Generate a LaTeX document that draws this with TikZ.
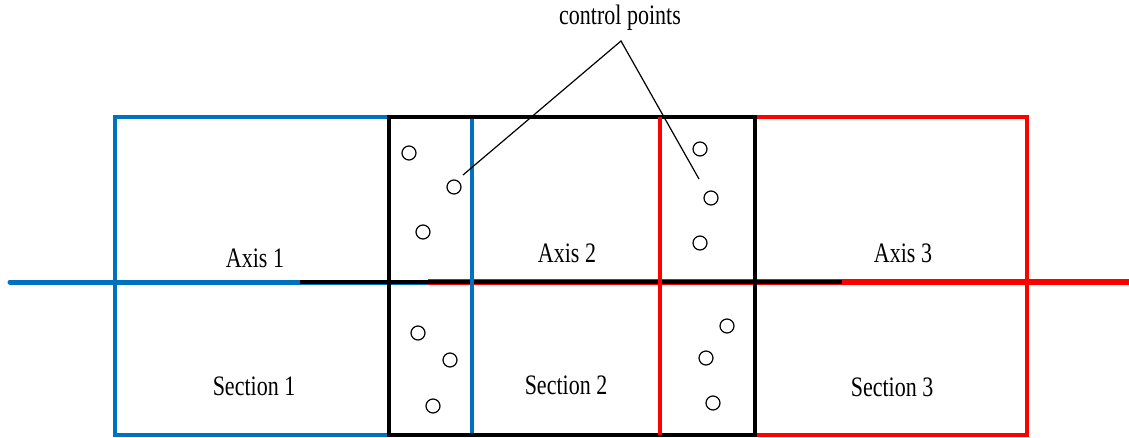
\documentclass[tikz,border=0pt]{standalone}
\usepackage{fontspec}
\usepackage{graphicx}
\setmainfont{Liberation Serif}
\definecolor{axblue}{RGB}{0,112,192}
\definecolor{axred}{RGB}{255,0,0}
\newcommand{\tallt}[1]{\scalebox{1}[1.28]{#1}}
\begin{document}
\begin{tikzpicture}[x=1pt,y=-1pt,
  boxline/.style={line width=3.6pt},
  axisline/.style={line width=5pt},
  cpt/.style={circle,draw,line width=1.2pt,minimum size=14pt,inner sep=0pt},
  lbl/.style={font=\fontsize{22}{26}\selectfont,inner sep=0pt},
  leader/.style={line width=1.2pt}]
\useasboundingbox (0,0) rectangle (1129,438);
% axis line
\draw[axisline,axblue,line cap=round] (10,282) -- (428,282);
\draw[axisline,axred,line width=6pt] (428,282) -- (1129,282);
\draw[axisline,black,line width=4.2pt] (300,282) -- (842,282);
% boxes
\draw[boxline,axblue] (115,435) -- (115,117) -- (472,117) -- (472,435) -- cycle;
\draw[boxline,axred] (660,435) -- (660,117) -- (1027,117) -- (1027,435) -- cycle;
\draw[boxline,black] (389,117) rectangle (755,435);
\draw[boxline,axred] (660,117) -- (660,435);
\draw[boxline,axblue] (472,121) -- (472,431);
% labels
\node[lbl] (ax1) at (255,258) {\tallt{Axis 1}};
\node[lbl] (ax2) at (567,253) {\tallt{Axis 2}};
\node[lbl] (ax3) at (903,253) {\tallt{Axis 3}};
\node[lbl] (s1) at (254,386) {\tallt{Section 1}};
\node[lbl] (s2) at (566,385) {\tallt{Section 2}};
\node[lbl] (s3) at (892,387) {\tallt{Section 3}};
\node[lbl] (cp) at (620,18) {\tallt{control points}};
% control points
\node[cpt] (c1) at (409,153) {};
\node[cpt] (c2) at (454,187) {};
\node[cpt] (c3) at (423,232) {};
\node[cpt] (c4) at (700,149) {};
\node[cpt] (c5) at (711,198) {};
\node[cpt] (c6) at (700,243) {};
\node[cpt] (c7) at (418,333) {};
\node[cpt] (c8) at (450,360) {};
\node[cpt] (c9) at (433,406) {};
\node[cpt] (c10) at (727,326) {};
\node[cpt] (c11) at (706,358) {};
\node[cpt] (c12) at (713,403) {};
% leaders
\coordinate (apex) at (621,41);
\coordinate (la) at (463,175);
\coordinate (lb) at (699,179);
\draw[leader] (la) -- (apex) -- (lb);
\end{tikzpicture}
\end{document}
